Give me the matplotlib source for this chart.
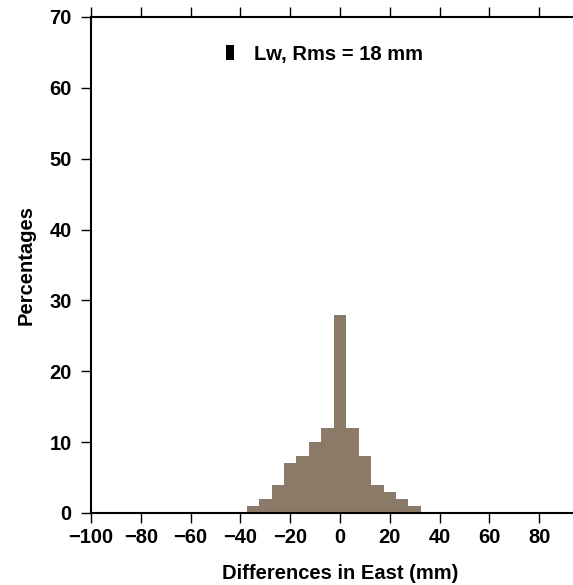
import numpy as np
import matplotlib
matplotlib.use('Agg')
import matplotlib.pyplot as plt
from matplotlib.patches import Patch

plt.rcParams['font.family'] = ['Liberation Sans', 'DejaVu Sans']
plt.rcParams['font.weight'] = 'bold'

# histogram data (bin centres in mm, percentages)
bin_centers = [-35, -30, -25, -20, -15, -10, -5, 0, 5, 10, 15, 20, 25, 30]
percentages = [1, 2, 4, 7, 8, 10, 12, 28, 12, 8, 4, 3, 2, 1]
bin_width = 5
legend_label = 'Lw, Rms = 18 mm'
x_ticks = list(range(-100, 101, 20))
y_ticks = list(range(0, 71, 10))

bar_color = '#8b7a68'

fig = plt.figure(figsize=(5.73, 5.85), dpi=100)
fig.set_facecolor('white')
ax = fig.add_axes([91 / 573, 1 - 513 / 585, 498 / 573, 496 / 585])

ax.bar(bin_centers, percentages, width=bin_width, color=bar_color,
       edgecolor='none', linewidth=0)

ax.set_xlim(-100, 100)
ax.set_ylim(0, 70)
ax.set_xticks(x_ticks)
ax.set_yticks(y_ticks)
ax.set_xticklabels([f'\u2212{abs(v)}' if v < 0 else str(v) for v in x_ticks])

ax.tick_params(axis='both', which='major', direction='out', length=7,
               width=1.0, labelsize=14.5, pad=4, top=True, right=False)
ax.tick_params(axis='y', pad=7)
ax.tick_params(axis='x', top=True, labeltop=False)

for spine in ax.spines.values():
    spine.set_linewidth(1.5)

ax.set_xlabel('Differences in East (mm)', fontsize=14.5, fontweight='bold', labelpad=12)
ax.set_ylabel('Percentages', fontsize=14.5, fontweight='bold', labelpad=10)

leg = ax.legend(handles=[Patch(facecolor='black', edgecolor='none')],
                labels=[legend_label], loc='center left',
                bbox_to_anchor=(0.272, 0.925), frameon=False,
                fontsize=14.5, handlelength=0.35, handleheight=0.75,
                handletextpad=1.0, borderpad=0, borderaxespad=0)

fig.savefig('out.png', dpi=100, facecolor='white')
